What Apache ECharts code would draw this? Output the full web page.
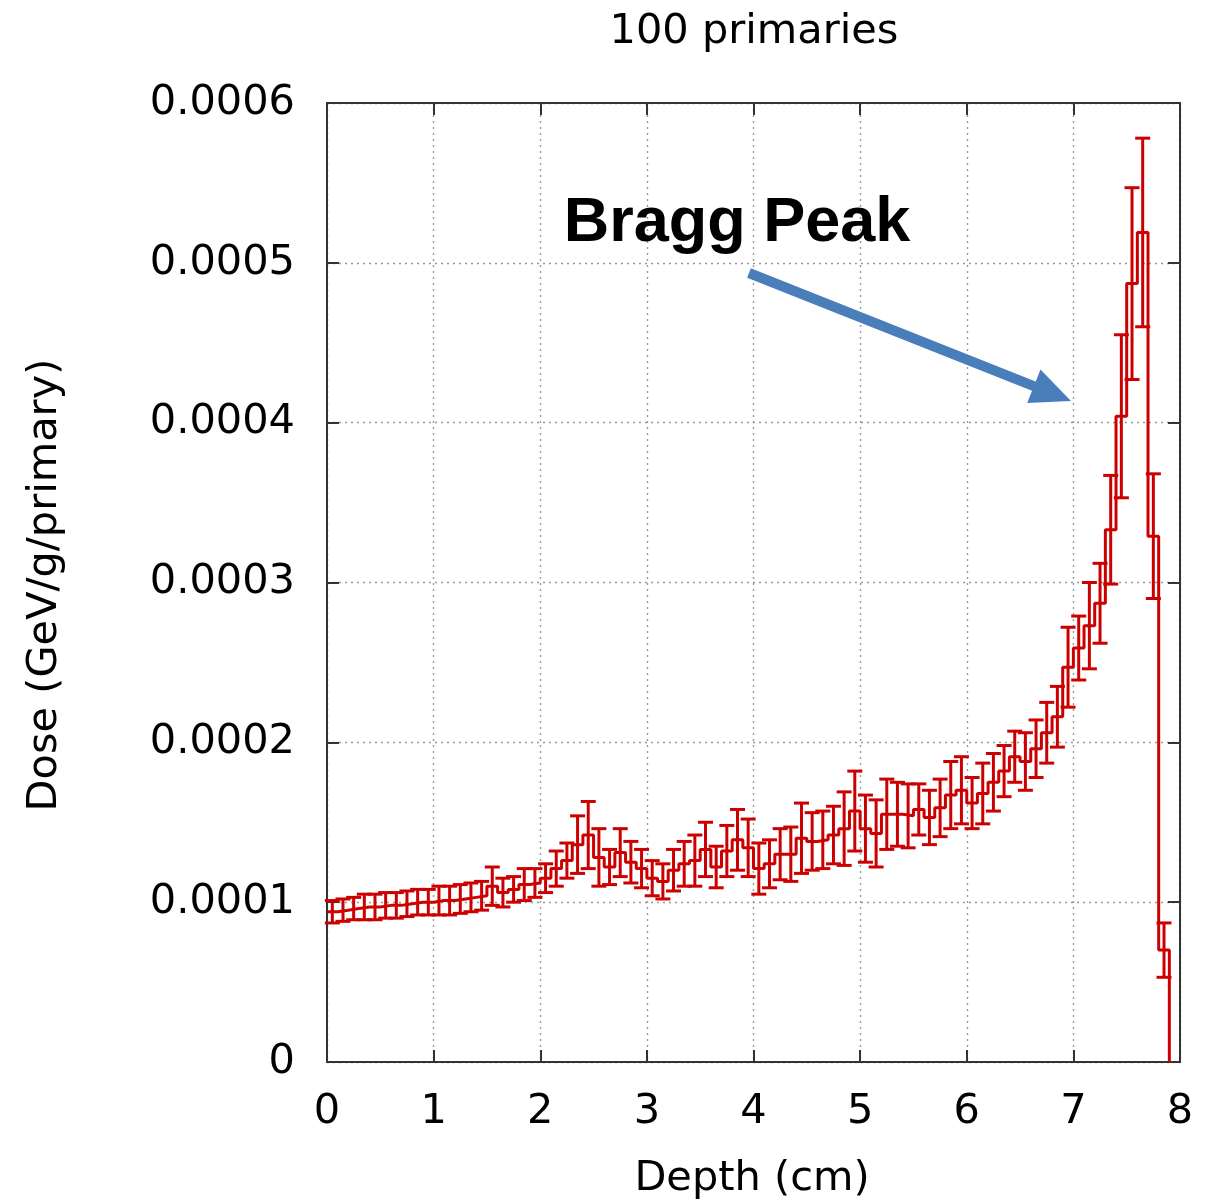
<!DOCTYPE html>
<html><head><meta charset="utf-8">
<script src="https://cdn.jsdelivr.net/npm/echarts@6/dist/echarts.min.js"></script>
<style>html,body{margin:0;padding:0;background:#fff}#c{width:1225px;height:1200px}</style>
</head><body><div id="c"></div>
<script>
// Depth bins (cm): bin i covers [i*binWidth, (i+1)*binWidth]
const binWidth = 0.1;
// Dose per bin, in units of 1e-4 GeV/g/primary
const doseE4 = [
  0.94,0.95,0.96,0.97,0.97,0.98,0.98,0.99,1.00,1.00,
  1.01,1.01,1.02,1.03,1.04,1.10,1.06,1.08,1.11,1.12,
  1.15,1.21,1.26,1.36,1.42,1.28,1.22,1.31,1.25,1.21,
  1.15,1.13,1.20,1.24,1.26,1.33,1.22,1.32,1.39,1.34,
  1.21,1.24,1.30,1.30,1.40,1.38,1.39,1.42,1.46,1.57,
  1.46,1.43,1.55,1.55,1.54,1.58,1.53,1.59,1.67,1.70,
  1.62,1.68,1.75,1.82,1.91,1.88,1.96,2.06,2.16,2.47,
  2.59,2.73,2.87,3.33,4.04,4.87,5.19,3.29,0.70
];
// Statistical error per bin, same units
const errE4 = [
  0.07,0.07,0.07,0.08,0.08,0.08,0.08,0.08,0.08,0.08,
  0.09,0.09,0.09,0.09,0.09,0.12,0.09,0.08,0.10,0.09,
  0.09,0.11,0.11,0.18,0.21,0.18,0.11,0.15,0.13,0.12,
  0.11,0.11,0.13,0.14,0.16,0.17,0.13,0.16,0.19,0.18,
  0.16,0.15,0.16,0.17,0.22,0.18,0.18,0.18,0.23,0.25,
  0.21,0.21,0.22,0.20,0.20,0.16,0.17,0.18,0.21,0.21,
  0.16,0.19,0.18,0.16,0.16,0.18,0.18,0.19,0.19,0.25,
  0.20,0.27,0.25,0.34,0.51,0.60,0.59,0.39,0.17
];
const UNIT = 1e-4;
const yTickLabels = ['0','0.0001','0.0002','0.0003','0.0004','0.0005','0.0006'];
const xTickLabels = ['0','1','2','3','4','5','6','7','8'];

const RED = '#cc0000';
const FONT = '"DejaVu Sans", sans-serif';
const FS = 41.5;

// histogram steps built from bins
const stepData = [];
doseE4.forEach((v, i) => {
  stepData.push([i * binWidth, v * UNIT]);
  stepData.push([(i + 1) * binWidth, v * UNIT]);
});
stepData.push([doseE4.length * binWidth, 0]);

const errData = doseE4.map((v, i) => [
  (i + 0.5) * binWidth, (v - errE4[i]) * UNIT, (v + errE4[i]) * UNIT
]);

const axisLineStyle = { color: '#333', width: 2 };
const tickStyle = { show: true, inside: true, length: 12, lineStyle: { color: '#333', width: 2 } };
const splitStyle = { show: true, lineStyle: { color: '#999', width: 1.4, type: [2, 4] } };

const chart = echarts.init(document.getElementById('c'));
chart.setOption({
  animation: false,
  backgroundColor: '#fff',
  grid: { left: 327, top: 103, width: 853, height: 959, containLabel: false },
  xAxis: [
    { type: 'value', min: 0, max: 8, interval: 1, position: 'bottom',
      axisLine: { show: true, onZero: false, lineStyle: axisLineStyle },
      axisTick: tickStyle,
      axisLabel: { fontSize: FS, fontFamily: FONT, color: '#000', margin: 29,
        formatter: v => xTickLabels[Math.round(v)] },
      splitLine: splitStyle },
    { type: 'value', min: 0, max: 8, interval: 1, position: 'top',
      axisLine: { show: true, onZero: false, lineStyle: axisLineStyle },
      axisTick: tickStyle, axisLabel: { show: false }, splitLine: { show: false } }
  ],
  yAxis: [
    { type: 'value', min: 0, max: 0.0006, interval: 0.0001, position: 'left',
      axisLine: { show: true, onZero: false, lineStyle: axisLineStyle },
      axisTick: tickStyle,
      axisLabel: { fontSize: FS, fontFamily: FONT, color: '#000', margin: 32,
        formatter: v => yTickLabels[Math.round(v / UNIT)] },
      splitLine: splitStyle },
    { type: 'value', min: 0, max: 0.0006, interval: 0.0001, position: 'right',
      axisLine: { show: true, onZero: false, lineStyle: axisLineStyle },
      axisTick: tickStyle, axisLabel: { show: false }, splitLine: { show: false } }
  ],
  series: [
    { type: 'line', data: stepData, xAxisIndex: 0, yAxisIndex: 0,
      symbol: 'none', showSymbol: false, clip: true,
      lineStyle: { color: RED, width: 3 }, z: 3 },
    { type: 'custom', data: errData, xAxisIndex: 0, yAxisIndex: 0,
      encode: { x: 0, y: [1, 2] }, z: 4,
      renderItem: function (params, api) {
        const x = api.value(0), lo = api.value(1), hi = api.value(2);
        const pHi = api.coord([x, hi]);
        const pLo = api.coord([x, lo]);
        const cap = 7.5;
        const style = { stroke: RED, lineWidth: 3, fill: null };
        return { type: 'group', children: [
          { type: 'line', shape: { x1: pHi[0], y1: pHi[1], x2: pLo[0], y2: pLo[1] }, style },
          { type: 'line', shape: { x1: pHi[0] - cap, y1: pHi[1], x2: pHi[0] + cap, y2: pHi[1] }, style },
          { type: 'line', shape: { x1: pLo[0] - cap, y1: pLo[1], x2: pLo[0] + cap, y2: pLo[1] }, style }
        ]};
      } }
  ]
});

// Annotations (title, axis names, Bragg Peak label with arrow)
const S = [749, 273], T = [1071, 401];
const dx = T[0] - S[0], dy = T[1] - S[1], len = Math.hypot(dx, dy);
const ux = dx / len, uy = dy / len, nx = -uy, ny = ux;
const headL = 40, headW = 18;
const B = [T[0] - headL * ux, T[1] - headL * uy];

chart.setOption({
  graphic: [
    { type: 'text', x: 754, y: 32, style: { text: '100 primaries', font: FS + 'px ' + FONT, fill: '#000',
      align: 'center', verticalAlign: 'middle', textAlign: 'center', textVerticalAlign: 'middle' } },
    { type: 'text', x: 752, y: 1179, style: { text: 'Depth (cm)', font: FS + 'px ' + FONT, fill: '#000',
      align: 'center', verticalAlign: 'middle', textAlign: 'center', textVerticalAlign: 'middle' } },
    { type: 'text', x: 45, y: 585, rotation: Math.PI / 2, style: { text: 'Dose (GeV/g/primary)', font: FS + 'px ' + FONT, fill: '#000',
      align: 'center', verticalAlign: 'middle', textAlign: 'center', textVerticalAlign: 'middle' } },
    { type: 'text', x: 737, y: 224, z: 10, style: { text: 'Bragg Peak', font: 'bold 63px "Liberation Sans", Arial, sans-serif', fill: '#000',
      align: 'center', verticalAlign: 'middle', textAlign: 'center', textVerticalAlign: 'middle' } },
    { type: 'line', z: 10, shape: { x1: S[0], y1: S[1], x2: B[0] + 2 * ux, y2: B[1] + 2 * uy },
      style: { stroke: '#4a7ebb', lineWidth: 10 } },
    { type: 'polygon', z: 10, shape: { points: [T, [B[0] + headW * nx, B[1] + headW * ny], [B[0] - headW * nx, B[1] - headW * ny]] },
      style: { fill: '#4a7ebb' } }
  ]
});
</script>
</body></html>
